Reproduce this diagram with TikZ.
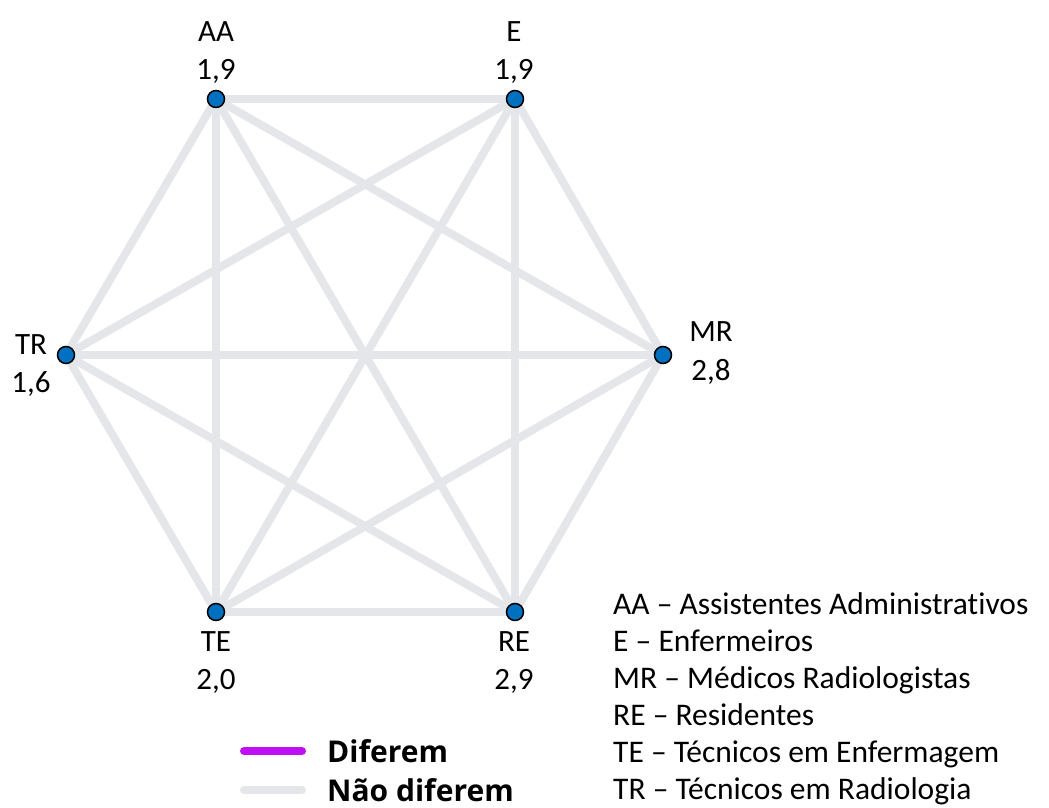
\documentclass[tikz,border=0pt]{standalone}
\usepackage{fontspec}
\setmainfont{Carlito}[RawFeature=-liga]
\newfontfamily\legendfont{Open Sans}
\begin{document}
\begin{tikzpicture}[x=1pt,y=-1pt,
  vertex/.style={circle,draw=black,line width=1.5pt,fill=vblue,minimum size=17pt,inner sep=0pt},
  lbl/.style={font=\fontsize{31}{37}\selectfont,inner sep=0pt,anchor=base},
  edge/.style={draw=edgegray,line width=8pt},
  key/.style={font=\fontsize{31.5}{37}\selectfont,anchor=base west,inner sep=0pt}]
\definecolor{vblue}{HTML}{0070C0}
\definecolor{edgegray}{HTML}{E5E6EA}
\definecolor{diffpurple}{HTML}{BF10F5}
\useasboundingbox (0,0) rectangle (1049,808);

% group nodes
\coordinate (AA) at (216,99);
\coordinate (E) at (515,99);
\coordinate (MR) at (663,355);
\coordinate (RE) at (515,612);
\coordinate (TE) at (216,612);
\coordinate (TR) at (66,355);

% pairwise comparisons
\foreach \a/\b in {AA/E,AA/MR,AA/RE,AA/TE,AA/TR,E/MR,E/RE,E/TE,E/TR,MR/RE,MR/TE,MR/TR,RE/TE,RE/TR,TE/TR}
  \draw[edge] (\a) -- (\b);

\foreach \n in {AA,E,MR,RE,TE,TR}
  \node[vertex] (v\n) at (\n) {};

% labels with mean values
\node[lbl] (lAA) at (216,42) {AA};
\node[lbl] (nAA) at (216,79) {1,9};
\node[lbl] (lE) at (514,42) {E};
\node[lbl] (nE) at (514,79) {1,9};
\node[lbl] (lTR) at (31,354) {TR};
\node[lbl] (nTR) at (31,392) {1,6};
\node[lbl] (lMR) at (711,341) {MR};
\node[lbl] (nMR) at (711,380) {2,8};
\node[lbl] (lTE) at (216,651) {TE};
\node[lbl] (nTE) at (216,689) {2,0};
\node[lbl] (lRE) at (514,651) {RE};
\node[lbl] (nRE) at (514,689) {2,9};

% abbreviations
\node[key] (k1) at (613,614) {AA – Assistentes Administrativos};
\node[key] (k2) at (613,651) {E – Enfermeiros};
\node[key] (k3) at (613,688) {MR – Médicos Radiologistas};
\node[key] (k4) at (613,725) {RE – Residentes};
\node[key] (k5) at (613,762) {TE – Técnicos em Enfermagem};
\node[key] (k6) at (613,799) {TR – Técnicos em Radiologia};

% line legend
\coordinate (p1) at (244,751);
\coordinate (p2) at (302,751);
\coordinate (g1) at (244,790);
\coordinate (g2) at (302,790);
\draw[diffpurple,line width=8pt,line cap=round] (p1) -- (p2);
\draw[edgegray,line width=8pt,line cap=round] (g1) -- (g2);
\node[anchor=west,inner sep=0pt,font=\legendfont\bfseries\fontsize{30}{36}\selectfont] (ld) at (327,751) {Diferem};
\node[anchor=west,inner sep=0pt,font=\legendfont\bfseries\fontsize{30}{36}\selectfont] (ln) at (327,790) {Não diferem};
\end{tikzpicture}
\end{document}
